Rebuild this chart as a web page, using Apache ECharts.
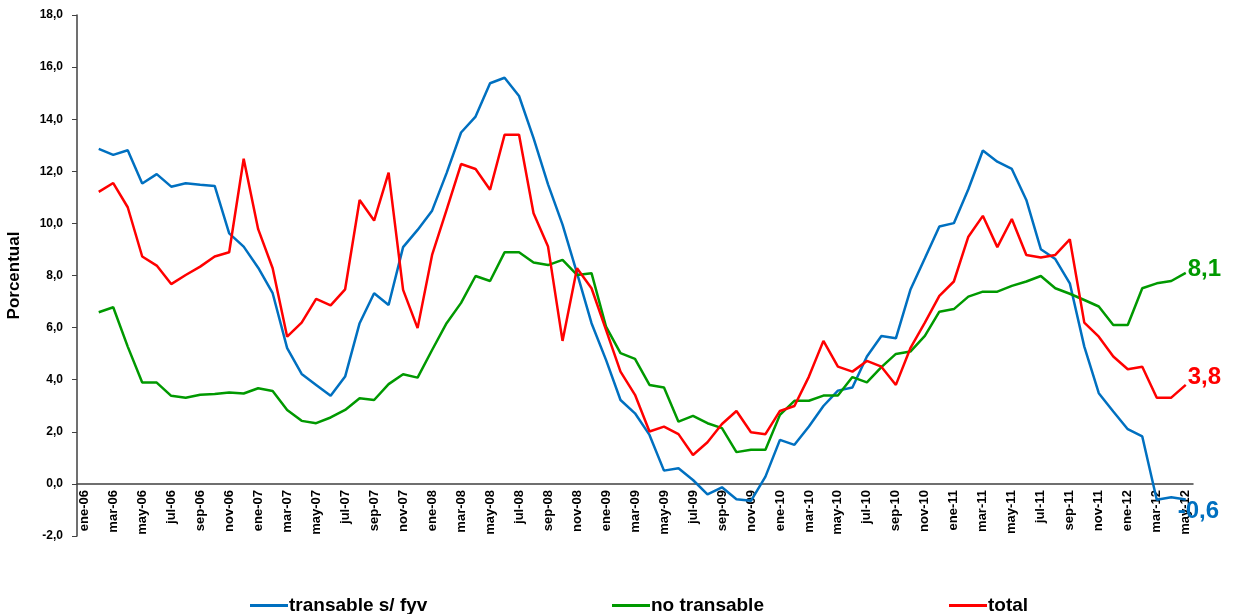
<!DOCTYPE html>
<html>
<head>
<meta charset="utf-8">
<script src="https://cdn.jsdelivr.net/npm/echarts@6/dist/echarts.min.js"></script>
<style>
  html, body { margin: 0; padding: 0; background: #fff; }
  #chart { width: 1233px; height: 614px; }
</style>
</head>
<body>
<div id="chart"></div>
<script>
// meses y años del eje x (ene-06 ... may-12)
var meses = ["ene", "feb", "mar", "abr", "may", "jun", "jul", "ago", "sep", "oct", "nov", "dic"];
var anios = ["06", "07", "08", "09", "10", "11", "12"];
var categorias = [];
for (var a = 0; a < anios.length; a++) {
  for (var m = 0; m < meses.length; m++) {
    if (anios[a] === "12" && m > 4) break;
    categorias.push(meses[m] + "-" + anios[a]);
  }
}

// series (ene-06 sin dato)
var transable = [null,
  12.86, 12.63, 12.81, 11.53, 11.89, 11.41, 11.54, 11.48, 11.44, 9.62, 9.11,
  8.3, 7.32, 5.21, 4.22, 3.80, 3.38, 4.12, 6.17, 7.32, 6.87, 9.09, 9.75,
  10.49, 11.93, 13.49, 14.10, 15.38, 15.59, 14.89, 13.27, 11.5, 9.95, 8.09, 6.17,
  4.76, 3.22, 2.71, 1.88, 0.51, 0.60, 0.15, -0.40, -0.13, -0.59, -0.65, 0.28,
  1.69, 1.50, 2.20, 2.99, 3.58, 3.70, 4.89, 5.68, 5.59, 7.45, 8.66, 9.88,
  10.01, 11.31, 12.80, 12.37, 12.09, 10.90, 9.01, 8.63, 7.70, 5.27, 3.48, 2.78,
  2.10, 1.82, -0.61, -0.51, -0.6];

var noTransable = [null,
  6.59, 6.78, 5.27, 3.89, 3.89, 3.38, 3.31, 3.42, 3.45, 3.51, 3.47,
  3.67, 3.57, 2.84, 2.42, 2.33, 2.55, 2.84, 3.29, 3.22, 3.83, 4.21, 4.08,
  5.14, 6.17, 6.95, 7.98, 7.79, 8.89, 8.89, 8.50, 8.40, 8.60, 8.02, 8.09,
  6.04, 5.02, 4.80, 3.80, 3.70, 2.39, 2.61, 2.33, 2.14, 1.22, 1.31, 1.31,
  2.65, 3.19, 3.19, 3.39, 3.39, 4.10, 3.90, 4.48, 4.99, 5.08, 5.68, 6.61,
  6.71, 7.19, 7.38, 7.38, 7.60, 7.77, 7.98, 7.51, 7.30, 7.06, 6.81, 6.10,
  6.10, 7.51, 7.70, 7.79, 8.1];

var total = [null,
  11.21, 11.55, 10.62, 8.73, 8.38, 7.67, 8.02, 8.34, 8.73, 8.89, 12.48,
  9.78, 8.28, 5.65, 6.19, 7.10, 6.85, 7.47, 10.90, 10.11, 11.95, 7.45, 5.98,
  8.79, 10.52, 12.28, 12.09, 11.29, 13.40, 13.40, 10.39, 9.11, 5.49, 8.28, 7.51,
  5.91, 4.31, 3.42, 2.01, 2.20, 1.91, 1.11, 1.60, 2.30, 2.80, 1.98, 1.91,
  2.80, 2.99, 4.12, 5.49, 4.50, 4.31, 4.72, 4.50, 3.80, 5.21, 6.19, 7.22,
  7.77, 9.49, 10.29, 9.09, 10.17, 8.79, 8.69, 8.79, 9.39, 6.19, 5.65, 4.89,
  4.40, 4.50, 3.31, 3.31, 3.8];

var coma = function (v) { return v.toFixed(1).replace(".", ","); };

var myChart = echarts.init(document.getElementById("chart"));

function serie(nombre, datos, color, offset) {
  return {
    name: nombre,
    type: "line",
    data: datos,
    showSymbol: false,
    symbol: "none",
    lineStyle: { color: color, width: 2.5 },
    itemStyle: { color: color },
    endLabel: {
      show: true,
      formatter: function (p) { return coma(p.value); },
      color: color,
      fontFamily: "Liberation Sans",
      fontWeight: "bold",
      fontSize: 24,
      offset: offset,
      distance: 2
    }
  };
}

myChart.setOption({
  animation: false,
  grid: { left: 77, right: 40, top: 15, bottom: 78, outerBoundsMode: "none" },
  legend: [
    { data: ["transable s/ fyv"], left: 245, top: 591 },
    { data: ["no transable"], left: 607, top: 591 },
    { data: ["total"], left: 944, top: 591 }
  ].map(function (l) {
    l.icon = "rect";
    l.itemWidth = 38;
    l.itemHeight = 3;
    l.itemGap = 2;
    l.textStyle = {
      fontFamily: "Liberation Sans",
      fontWeight: "bold",
      fontSize: 19,
      color: "#000",
      padding: [0, 0, 0, -4]
    };
    return l;
  }),
  xAxis: {
    type: "category",
    data: categorias,
    boundaryGap: true,
    position: "bottom",
    offset: -52,
    axisLine: { onZero: false, lineStyle: { color: "#404040", width: 1.5 } },
    axisTick: { interval: 1, length: 5, lineStyle: { color: "#404040" } },
    axisLabel: {
      interval: 1,
      rotate: 90,
      margin: 6,
      color: "#000",
      fontFamily: "Liberation Sans",
      fontWeight: "bold",
      fontSize: 13
    },
    splitLine: { show: false }
  },
  yAxis: {
    type: "value",
    min: -2,
    max: 18,
    interval: 2,
    name: "Porcentual",
    nameLocation: "middle",
    nameGap: 54,
    nameTextStyle: {
      fontFamily: "Liberation Sans",
      fontWeight: "bold",
      fontSize: 17,
      color: "#000"
    },
    axisLine: { show: true, lineStyle: { color: "#404040", width: 1.5 } },
    axisTick: { show: true, length: 5, lineStyle: { color: "#404040" } },
    axisLabel: {
      formatter: coma,
      color: "#000",
      margin: 14,
      fontFamily: "Liberation Sans",
      fontWeight: "bold",
      fontSize: 12
    },
    splitLine: { show: false }
  },
  series: [
    serie("transable s/ fyv", transable, "#0070C0", [-10, 12]),
    serie("no transable", noTransable, "#009900", [0, -4]),
    serie("total", total, "#FF0000", [0, -8])
  ]
});
</script>
</body>
</html>
